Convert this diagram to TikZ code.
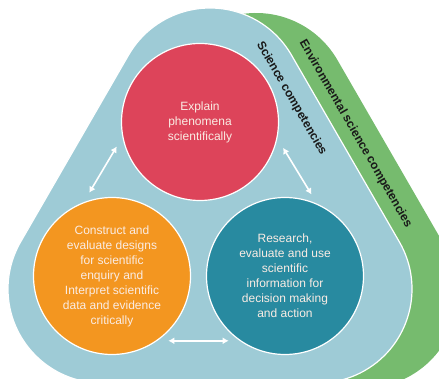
\documentclass[tikz,border=0pt]{standalone}
\usepackage{fontspec}
\setmainfont{Liberation Sans}
\usetikzlibrary{
  arrows.meta,
  calc
}
\definecolor{scienceblue}{RGB}{158,203,214}
\definecolor{envgreen}{RGB}{118,187,110}
\definecolor{explainred}{RGB}{221,68,90}
\definecolor{constructorange}{RGB}{243,150,32}
\definecolor{researchteal}{RGB}{40,138,160}
\definecolor{softwhite}{RGB}{250,236,228}
\tikzset{
  % For the rounded triangles; #1 is the prefix of the corner names.
  rounded triangle/.style={
    insert path={
      ([shift={(150:94)}]#1T) arc[start angle=150, end angle=30, radius=94]
      -- ([shift={(30:94)}]#1R) arc[start angle=30, end angle=-90, radius=94]
      -- ([shift={(-90:94)}]#1L) arc[start angle=270, end angle=150, radius=94]
      -- cycle}},
%
  % For the three competency circles.
  competency/.style={
    circle,
    draw=white,
    line width=1.2pt,
    minimum size=157pt,
    inner sep=0pt,
    align=center,
    text=softwhite,
    font=\fontsize{12}{15}\selectfont},
%
  % For the white double arrows.
  link/.style={
    draw=white,
    line width=1.6pt,
    {Latex[length=6pt,width=7pt]}-{Latex[length=6pt,width=7pt]},
    shorten <=11pt,
    shorten >=11pt},
%
  % For the labels along the bands.
  band label/.style={
    font=\fontsize{12}{14}\selectfont\bfseries,
    text=black!90,
    rotate=-60},
}

\begin{document}
\begin{tikzpicture}[x=1pt, y=1pt]
  \clip (0,0) rectangle (439,379);

  % corners of the two bands
  \coordinate (envT) at (256,272);
  \coordinate (envL) at (148,85);
  \coordinate (envR) at (364,85);
  \coordinate (sciT) at (210,277);
  \coordinate (sciL) at (102,90);
  \coordinate (sciR) at (318,90);

  \fill[envgreen, rounded triangle=env];
  \path[fill=scienceblue, draw=white, line width=1.2pt, rounded triangle=sci];

  \node[band label] (envlabel) at (355.5,245) {Environmental science competencies};
  \node[band label] (scilabel) at (291.5,280.5) {Science competencies};

  \node[competency, fill=explainred] (explain) at (200,257)
    {Explain\\phenomena\\scientifically};
  \node[competency, fill=constructorange] (construct) at (112,103)
    {Construct and\\evaluate designs\\for scientific\\enquiry and\\Interpret scientific\\data and evidence\\critically};
  \node[competency, fill=researchteal] (research) at (285,103)
    {Research,\\evaluate and use\\scientific\\information for\\decision making\\and action};

  \draw[link] (construct.111) -- (explain.191);
  \draw[link] (explain.348) -- (research.66);
  \draw[link] (construct.-55) -- (research.235);
\end{tikzpicture}
\end{document}
